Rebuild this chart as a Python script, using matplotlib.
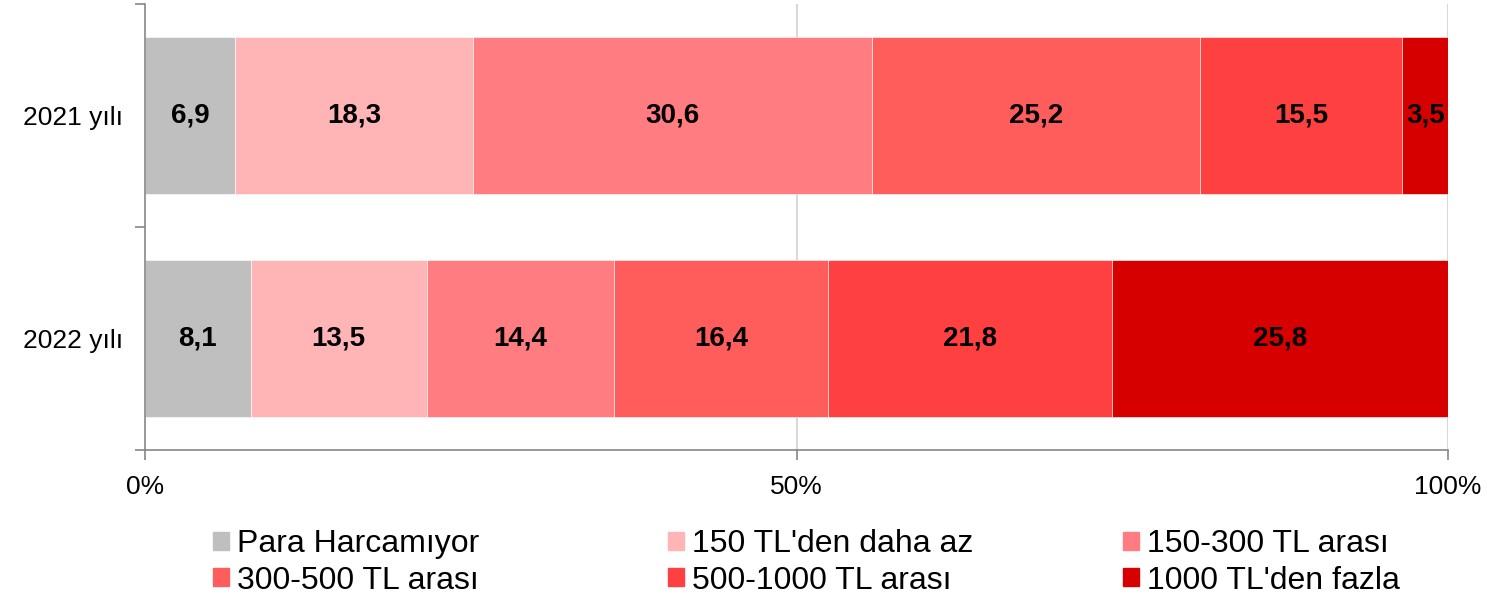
import matplotlib.pyplot as plt
from matplotlib.patches import Patch

years = ["2021 yılı", "2022 yılı"]
groups = ["Para Harcamıyor", "150 TL'den daha az", "150-300 TL arası",
          "300-500 TL arası", "500-1000 TL arası", "1000 TL'den fazla"]
values_2021 = [6.9, 18.3, 30.6, 25.2, 15.5, 3.5]
values_2022 = [8.1, 13.5, 14.4, 16.4, 21.8, 25.8]
colors = ["#BFBFBF", "#FFB5B5", "#FF7D80", "#FF5C5C", "#FF4040", "#D70000"]
xticks = [0, 50, 100]
xticklabels = ["0%", "50%", "100%"]

plt.rcParams['font.family'] = ['Liberation Sans', 'DejaVu Sans']

fig = plt.figure(figsize=(14.91, 6), dpi=100)
ax = fig.add_axes([0.0973, 0.25, 0.9712 - 0.0973, 0.7433])

data = [values_2021, values_2022]
ypos = [0, 1]
for y, vals in zip(ypos, data):
    left = 0
    for v, c in zip(vals, colors):
        ax.barh(y, v, left=left, height=0.7, color=c, edgecolor="#FFFFFF",
                linewidth=0.4, zorder=2)
        ax.text(left + v / 2, y, f"{v:.1f}".replace(".", ","), ha="center",
                va="center", fontsize=20, fontweight="bold", color="black", zorder=3)
        left += v

ax.set_xlim(0, 100)
ax.set_ylim(1.5, -0.5)
ax.set_xticks(xticks)
ax.set_xticklabels(xticklabels, fontsize=19)
ax.set_yticks(ypos)
ax.set_yticklabels(years, fontsize=19)
ax.set_yticks([-0.5, 0.5, 1.5], minor=True)
ax.tick_params(axis="y", which="major", length=0, pad=16)
ax.tick_params(axis="y", which="minor", length=7, color="#868686", width=1.2)
ax.tick_params(axis="x", length=7, color="#868686", width=1.2, pad=11)

for x in xticks[1:]:
    ax.axvline(x, color="#D9D9D9", linewidth=1.5, zorder=1)

for side in ["top", "right"]:
    ax.spines[side].set_visible(False)
for side in ["left", "bottom"]:
    ax.spines[side].set_color("#868686")
    ax.spines[side].set_linewidth(1.2)

# legend laid out as three columns, two rows
col_x = [0.1429, 0.448, 0.7532]
for i, cx in enumerate(col_x):
    handles = [Patch(color=colors[i]), Patch(color=colors[i + 3])]
    labels = [groups[i], groups[i + 3]]
    fig.legend(handles, labels, loc="upper left", bbox_to_anchor=(cx, 0.118),
               frameon=False, fontsize=23, handlelength=0.5, handleheight=0.5,
               handletextpad=0.25, labelspacing=0.2, borderpad=0, borderaxespad=0)

fig.savefig("out.png", dpi=100)
